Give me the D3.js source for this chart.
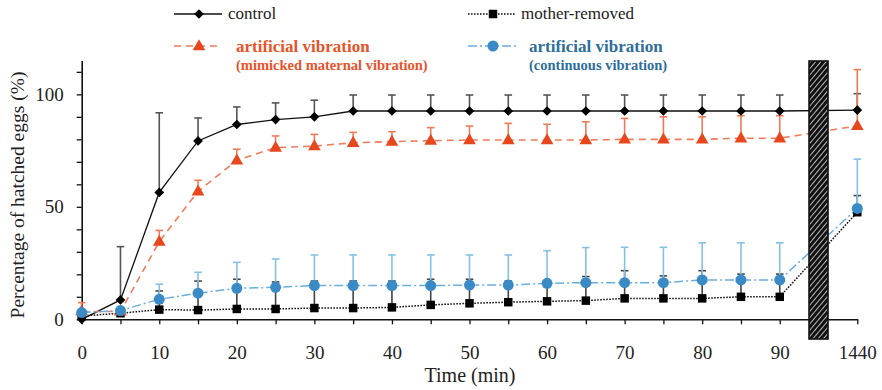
<!DOCTYPE html>
<html>
<head>
<meta charset="utf-8">
<script src="https://cdn.jsdelivr.net/npm/d3@7"></script>
<style>
  html, body { margin: 0; padding: 0; background: #fff; }
  svg { display: block; }
  svg text { font-family: "Liberation Serif", "DejaVu Serif", "Noto Serif", serif !important; }
</style>
</head>
<body>
<svg id="chart" width="882" height="390"></svg>
<script>
// ---------- data ----------
const times = ["0","5","10","15","20","25","30","35","40","45","50","55","60","65","70","75","80","85","90","1440"];
const xTickLabels = ["0","10","20","30","40","50","60","70","80","90","1440"];
const yTicks = [0,10,20,30,40,50,60,70,80,90,100,110];
const yTickLabels = [0,50,100];

const control      = [0, 8.6, 56.4, 79.3, 86.6, 88.8, 90.0, 92.6, 92.6, 92.6, 92.6, 92.6, 92.6, 92.6, 92.6, 92.6, 92.6, 92.6, 92.6, 93.0];
const controlErr   = [0, 23.7, 35.4, 10.2, 7.8, 7.4, 7.4, 7.1, 7.1, 7.1, 7.1, 7.1, 7.1, 7.1, 7.1, 7.1, 7.1, 7.1, 7.1, 7.3];

const mother       = [1.5, 2.7, 4.3, 4.1, 4.6, 4.6, 5.0, 5.0, 5.3, 6.4, 7.1, 7.6, 8.0, 8.3, 9.3, 9.3, 9.3, 10.0, 10.0, 47.6];
const motherErr    = [0, 0, 8.3, 12.9, 13.2, 12.0, 12.0, 12.0, 11.7, 11.4, 10.7, 9.4, 9.0, 10.7, 12.3, 10.0, 12.3, 10.1, 10.1, 7.4];

const artMaternal    = [3.5, 3.5, 34.5, 56.9, 70.7, 76.3, 77.0, 78.5, 79.0, 79.4, 79.7, 79.7, 79.7, 79.7, 80.0, 80.0, 80.0, 80.5, 80.5, 86.0];
const artMaternalErr = [3.9, 0, 5.0, 4.9, 4.9, 5.2, 5.2, 4.6, 4.4, 5.8, 6.2, 7.4, 7.0, 8.1, 9.3, 10.0, 10.0, 10.0, 10.0, 25.0];

const artContinuous    = [3.0, 3.9, 8.9, 11.6, 13.8, 14.2, 15.0, 15.0, 15.0, 15.0, 15.2, 15.2, 16.0, 16.3, 16.3, 16.3, 17.5, 17.5, 17.5, 49.3];
const artContinuousErr = [0, 0, 6.7, 9.3, 11.5, 12.6, 13.6, 13.6, 13.6, 13.6, 13.4, 13.4, 14.5, 15.6, 15.7, 15.7, 16.5, 16.5, 16.5, 21.9];

// ---------- setup ----------
const SERIF = "'Liberation Serif', 'DejaVu Serif', 'Noto Serif', serif";
const svg = d3.select("#chart");
const xDomain = times.slice(0, 19).concat(["break"], times.slice(19));
const x = d3.scalePoint().domain(xDomain).range([81.7, 857.3]);
const y = d3.scaleLinear().domain([0, 115]).range([319.3, 60.6]);

const series = [
  { name: "mother", vals: mother, err: motherErr, line: "#111", dash: "1.6,1.4", width: 1.5, marker: "square", mcolor: "#000", ecolor: "#444" },
  { name: "control", vals: control, err: controlErr, line: "#111", dash: null, width: 1.3, marker: "diamond", mcolor: "#000", ecolor: "#555" },
  { name: "artMaternal", vals: artMaternal, err: artMaternalErr, line: "#F27B5D", dash: "7,5", width: 1.6, marker: "triangle", mcolor: "#E8461C", ecolor: "#F07A58" },
  { name: "artContinuous", vals: artContinuous, err: artContinuousErr, line: "#69AEDD", dash: "9,3,2,3", width: 1.5, marker: "circle", mcolor: "#3A8BC5", ecolor: "#86C0E6" }
];

// pattern for break
const defs = svg.append("defs");
const pat = defs.append("pattern").attr("id", "hatch").attr("patternUnits", "userSpaceOnUse")
  .attr("width", 4).attr("height", 4).attr("patternTransform", "rotate(40)");
pat.append("rect").attr("width", 4).attr("height", 4).attr("fill", "#111");
pat.append("line").attr("x1", 0).attr("y1", 0).attr("x2", 0).attr("y2", 4).attr("stroke", "#fff").attr("stroke-width", 1.4);

// ---------- axes ----------
const yAxis = svg.append("g").attr("transform", `translate(${x("0")},0)`)
  .call(d3.axisLeft(y).tickValues(yTicks).tickSize(5).tickSizeOuter(0).tickPadding(13)
    .tickFormat(d => yTickLabels.includes(d) ? d : ""));
yAxis.attr("font-family", null);
yAxis.select(".domain").attr("stroke", "#111").attr("stroke-width", 1.6);
yAxis.selectAll(".tick line").attr("stroke", "#111").attr("stroke-width", 1.3);
yAxis.selectAll(".tick text").attr("font-size", 19).attr("fill", "#222").style("font-family", SERIF);

const xAxis = svg.append("g").attr("transform", `translate(0,${y(0)})`)
  .call(d3.axisBottom(x).tickValues(times).tickSize(5).tickSizeOuter(0).tickPadding(21)
    .tickFormat(d => xTickLabels.includes(d) ? d : ""));
xAxis.attr("font-family", null);
xAxis.select(".domain").attr("stroke", "#111").attr("stroke-width", 1.6);
xAxis.selectAll(".tick line").attr("stroke", "#111").attr("stroke-width", 1.3);
xAxis.selectAll(".tick text").attr("font-size", 19).attr("fill", "#222").style("font-family", SERIF);

// axis titles
svg.append("text").attr("x", 470).attr("y", 382).attr("text-anchor", "middle")
  .attr("font-size", 20).attr("fill", "#222").style("font-family", SERIF).text("Time (min)");
svg.append("text").attr("transform", "translate(24,195) rotate(-90)").attr("text-anchor", "middle")
  .attr("font-size", 19.5).attr("fill", "#222").style("font-family", SERIF).text("Percentage of hatched eggs (%)");

// ---------- error bars ----------
const errG = svg.append("g");
series.forEach(s => {
  s.vals.forEach((v, i) => {
    const e = s.err[i];
    if (!e) return;
    const cx = x(times[i]);
    errG.append("line").attr("x1", cx).attr("x2", cx).attr("y1", y(v)).attr("y2", y(v + e))
      .attr("stroke", s.ecolor).attr("stroke-width", 1.6);
    errG.append("line").attr("x1", cx - 3.8).attr("x2", cx + 3.8).attr("y1", y(v + e)).attr("y2", y(v + e))
      .attr("stroke", s.ecolor).attr("stroke-width", 1.6);
  });
});

// ---------- lines ----------
const lineGen = d3.line().x(d => x(d.t)).y(d => y(d.v));
series.forEach(s => {
  const pts = s.vals.map((v, i) => ({ t: times[i], v }));
  svg.append("path").datum(pts).attr("d", lineGen).attr("fill", "none")
    .attr("stroke", s.line).attr("stroke-width", s.width)
    .attr("stroke-dasharray", s.dash);
});

// ---------- break bar ----------
svg.append("rect").attr("x", x("break") - 9.5).attr("y", 61).attr("width", 19).attr("height", 278)
  .attr("fill", "url(#hatch)").attr("stroke", "#111").attr("stroke-width", 1.6);

// ---------- markers ----------
const symbols = {
  square: d3.symbol().type(d3.symbolSquare).size(72),
  diamond: d3.symbol().type(d3.symbolDiamond2).size(60),
  triangle: d3.symbol().type(d3.symbolTriangle).size(70),
  circle: d3.symbol().type(d3.symbolCircle).size(95)
};
function drawMarker(g, type, cx, cy, color) {
  const dy = type === "triangle" ? 0.5 : 0;
  return g.append("path").attr("d", symbols[type]()).attr("fill", color)
    .attr("transform", `translate(${cx},${cy + dy})`);
}
const mg = svg.append("g");
series.forEach(s => {
  s.vals.forEach((v, i) => drawMarker(mg, s.marker, x(times[i]), y(v), s.mcolor));
});

// ---------- legend ----------
const legend = svg.append("g");
const legendItems = [
  { s: series[1], lx: 174, ly: 14, texts: [{ t: "control", dy: 5, size: 17, weight: "normal", color: "#222" }], tx: 228 },
  { s: series[0], lx: 468, ly: 14, texts: [{ t: "mother-removed", dy: 5, size: 17, weight: "normal", color: "#222" }], tx: 521 },
  { s: series[2], lx: 174, ly: 46, texts: [
      { t: "artificial vibration", dy: 6, size: 17, weight: "bold", color: "#E8532A" },
      { t: "(mimicked maternal vibration)", dy: 24, size: 14.5, weight: "bold", color: "#E8532A" }], tx: 236 },
  { s: series[3], lx: 468, ly: 46, texts: [
      { t: "artificial vibration", dy: 6, size: 17, weight: "bold", color: "#2F6E9C" },
      { t: "(continuous vibration)", dy: 24, size: 14.5, weight: "bold", color: "#2F6E9C" }], tx: 529 }
];
legendItems.forEach(it => {
  legend.append("line").attr("x1", it.lx).attr("x2", it.lx + 48).attr("y1", it.ly).attr("y2", it.ly)
    .attr("stroke", it.s.line).attr("stroke-width", it.s.width).attr("stroke-dasharray", it.s.dash);
  drawMarker(legend, it.s.marker, it.lx + 25, it.ly, it.s.mcolor);
  it.texts.forEach(tt => {
    legend.append("text").attr("x", it.tx).attr("y", it.ly + tt.dy).attr("font-size", tt.size)
      .attr("font-weight", tt.weight).attr("fill", tt.color).style("font-family", SERIF).text(tt.t);
  });
});
</script>
</body>
</html>
